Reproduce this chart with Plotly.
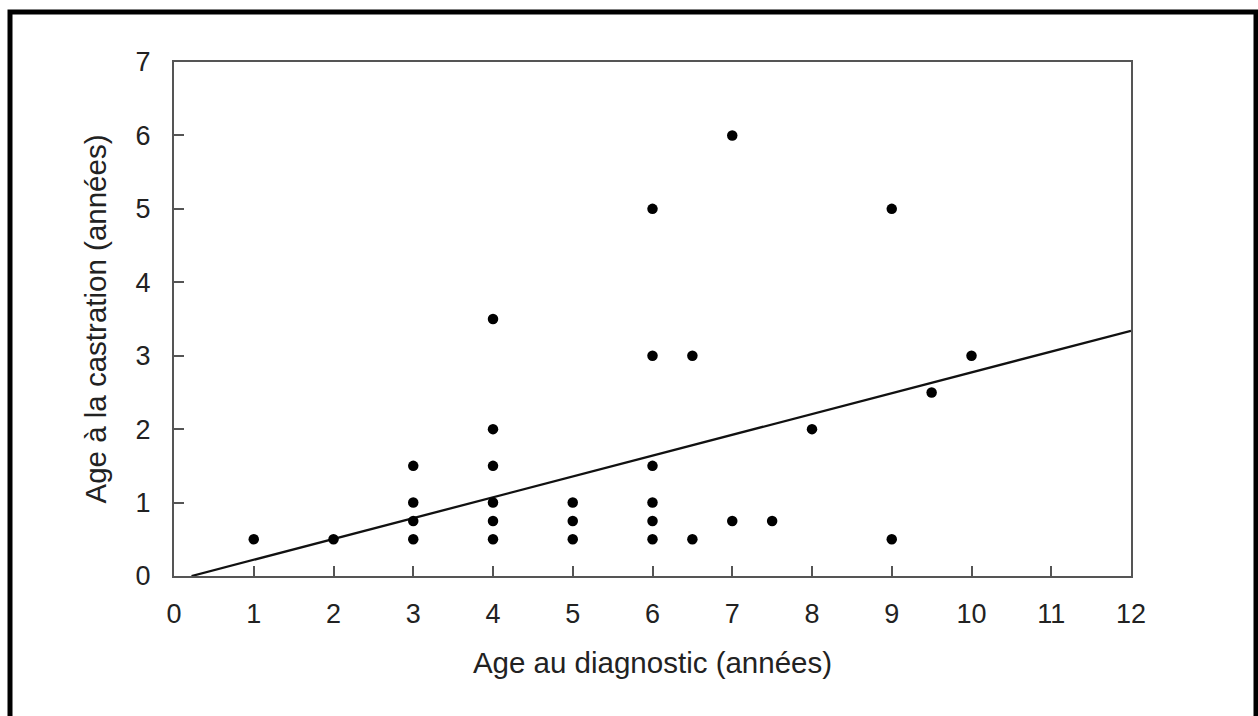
import plotly.graph_objects as go

# Data
x_diag = [1, 2, 3, 3, 3, 3, 4, 4, 4, 4, 4, 4, 5, 5, 5,
          6, 6, 6, 6, 6, 6, 6.5, 6.5, 7, 7, 7.5, 8, 9, 9, 9.5, 10]
y_castr = [0.5, 0.5, 0.5, 0.75, 1, 1.5, 0.5, 0.75, 1, 1.5, 2, 3.5, 0.5, 0.75, 1,
           0.5, 0.75, 1, 1.5, 3, 5, 0.5, 3, 0.75, 6, 0.75, 2, 0.5, 5, 2.5, 3]

line_x = [0.22, 12]
line_y = [0, 3.34]

x_ticks = list(range(0, 13))
y_ticks = list(range(0, 8))

x_title = "Age au diagnostic (années)"
y_title = "Age à la castration (années)"

W, H = 1258, 716
L, R, T, B = 174, 1131, 62, 576

FONT = "Liberation Sans, Arial, Helvetica, sans-serif"

fig = go.Figure()
fig.add_trace(go.Scatter(x=line_x, y=line_y, mode="lines",
                         line=dict(color="#111111", width=2.3), showlegend=False, hoverinfo="skip"))
fig.add_trace(go.Scatter(x=x_diag, y=y_castr, mode="markers",
                         marker=dict(color="#000000", size=10.5), showlegend=False))

axis_common = dict(showgrid=False, zeroline=False, showline=True, linecolor="#555555",
                   linewidth=2, mirror=True, ticks="inside", ticklen=10, tickwidth=1.6,
                   tickcolor="#555555",
                   tickfont=dict(family=FONT, size=27, color="#222222"))

fig.update_layout(
    width=W, height=H,
    margin=dict(l=L, r=W - R, t=T, b=H - B, pad=0),
    paper_bgcolor="white", plot_bgcolor="white",
    font=dict(family=FONT, color="#222222"),
    xaxis=dict(range=[0, 12], tickvals=x_ticks, ticklabelstandoff=13,
               title=dict(text=x_title, font=dict(size=29.5), standoff=24), **axis_common),
    yaxis=dict(range=[0, 7], tickvals=y_ticks, ticklabelstandoff=16,
               title=dict(text=y_title, font=dict(size=29.5), standoff=20), **axis_common),
)

pw, ph = R - L, B - T
def px(v):
    return (v - L) / pw
def py(v):
    return (B - v) / ph

fig.add_shape(type="rect", xref="paper", yref="paper",
              x0=px(10), x1=px(1256), y0=py(730), y1=py(12),
              line=dict(color="black", width=5), fillcolor="rgba(0,0,0,0)", layer="above")

fig.write_html(
    "out.html",
    config={"displayModeBar": False},
    post_script=("document.body.style.margin='0';"
                 "document.body.style.overflow='hidden';"
                 "document.documentElement.style.overflow='hidden';"),
)
